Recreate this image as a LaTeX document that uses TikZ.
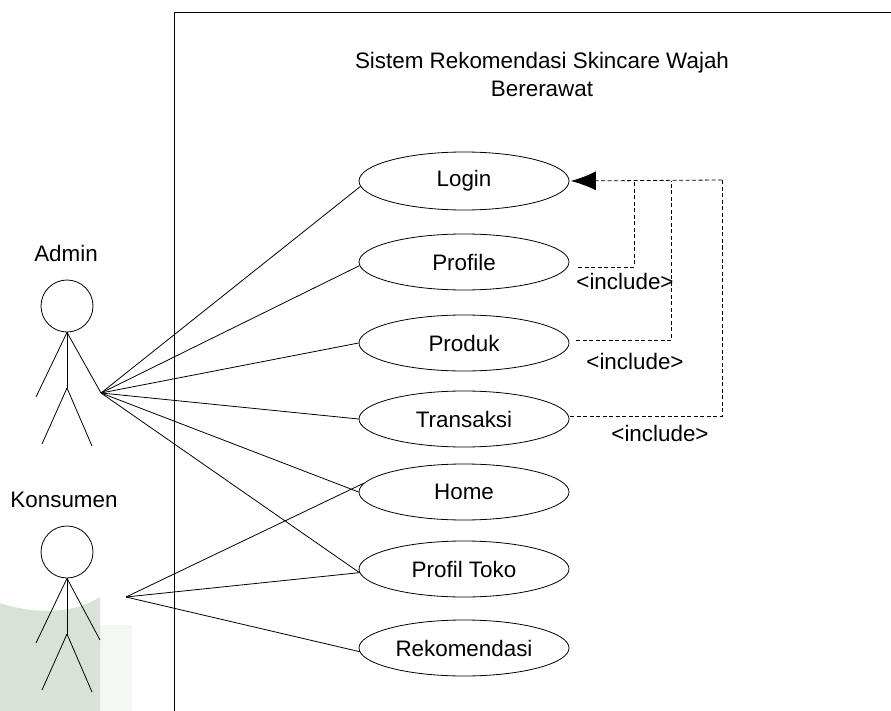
\documentclass[tikz,border=0pt]{standalone}
\usepackage{fontspec}
\setmainfont{Liberation Sans}
\usetikzlibrary{shapes.geometric,arrows.meta}
\definecolor{wm}{RGB}{216,227,216}
\definecolor{wmb}{RGB}{244,248,244}
\definecolor{wmg}{RGB}{222,224,222}
\tikzset{
 uc/.style={draw,ellipse,line width=.8pt,inner sep=0pt,minimum width=210pt,minimum height=56pt,font=\fontsize{22.4}{28}\selectfont},
 lab/.style={inner sep=0pt,font=\fontsize{22.4}{28}\selectfont,align=center},
 assoc/.style={line width=.8pt},
 inc/.style={line width=.8pt,dash pattern=on 4pt off 2.5pt},
 stick/.style={line width=.8pt},
}
\begin{document}
\begin{tikzpicture}[x=1pt,y=-1pt]
\useasboundingbox (0,0) rectangle (891,711);
% watermark
\fill[wmb] (100,625) -- (132,625) -- (132,711) -- (100,711) -- cycle;
\fill[wm] (0,603) .. controls (30,613) and (70,616) .. (100,597) -- (100,711) -- (0,711) -- cycle;
\fill[wmg] (96,600) -- (100,597) -- (100,640) -- (96,640) -- cycle;
% boundary
\coordinate (ftl) at (174,12);
\coordinate (fbl) at (174,711);
\coordinate (ftr) at (891,12);
\draw[line width=.8pt] (fbl) -- (ftl) -- (ftr);
\node[lab] (title) at (542,74) {Sistem Rekomendasi Skincare Wajah\\Bererawat};
% use cases
\node[uc,minimum height=58pt] (login) at (464,181) {Login};
\node[uc] (profile) at (464,262) {Profile};
\node[uc] (produk) at (464,343) {Produk};
\node[uc] (transaksi) at (464,419) {Transaksi};
\node[uc] (home) at (464,492) {Home};
\node[uc] (toko) at (464,569) {Profil Toko};
\node[uc] (rek) at (464,648) {Rekomendasi};
% actors
\node[lab] (admin) at (66,253) {Admin};
\node[draw,circle,line width=.8pt,minimum size=52pt,inner sep=0pt] (ah) at (67,306) {};
\coordinate (aw) at (67,388);
\coordinate (ahub) at (101,393);
\draw[stick] (ah.south) -- (aw);
\draw[stick] (ah.south) -- (36,397);
\draw[stick] (ah.south) -- (ahub);
\draw[stick] (aw) -- (42,444);
\draw[stick] (aw) -- (92,446);
\node[lab] (kons) at (64,500) {Konsumen};
\node[draw,circle,line width=.8pt,minimum size=52pt,inner sep=0pt] (kh) at (67,552) {};
\coordinate (kw) at (67,634);
\coordinate (khub) at (126,597);
\draw[stick] (kh.south) -- (kw);
\draw[stick] (kh.south) -- (36,643);
\draw[stick] (kh.south) -- (100,640);
\draw[stick] (kw) -- (42,690);
\draw[stick] (kw) -- (92,692);
% associations
\draw[assoc] (ahub) -- (login.183);
\draw[assoc] (ahub) -- (profile.182);
\draw[assoc] (ahub) -- (produk.180);
\draw[assoc] (ahub) -- (transaksi.180);
\draw[assoc] (ahub) -- (home.180);
\draw[assoc] (ahub) -- (toko.182);
\draw[assoc] (khub) -- (home.175);
\draw[assoc] (khub) -- (toko.182);
\draw[assoc] (khub) -- (rek.182);
% includes
\coordinate (ia) at (634,181);
\coordinate (ib) at (671,181);
\coordinate (ic) at (722,180);
\coordinate (pe) at (578,267);
\coordinate (qe) at (576,340);
\coordinate (te) at (570,416);
\draw[inc] (pe) -| (ia);
\draw[inc] (qe) -| (ib);
\draw[inc] (te) -| (ic);
\draw[inc,-{Latex[length=25pt,width=19pt]},shorten >=1.5pt] (ic) -- (login.east);
\node[lab] at (625,281) {<include>};
\node[lab] at (635,361) {<include>};
\node[lab] at (660,433) {<include>};
\end{tikzpicture}
\end{document}
